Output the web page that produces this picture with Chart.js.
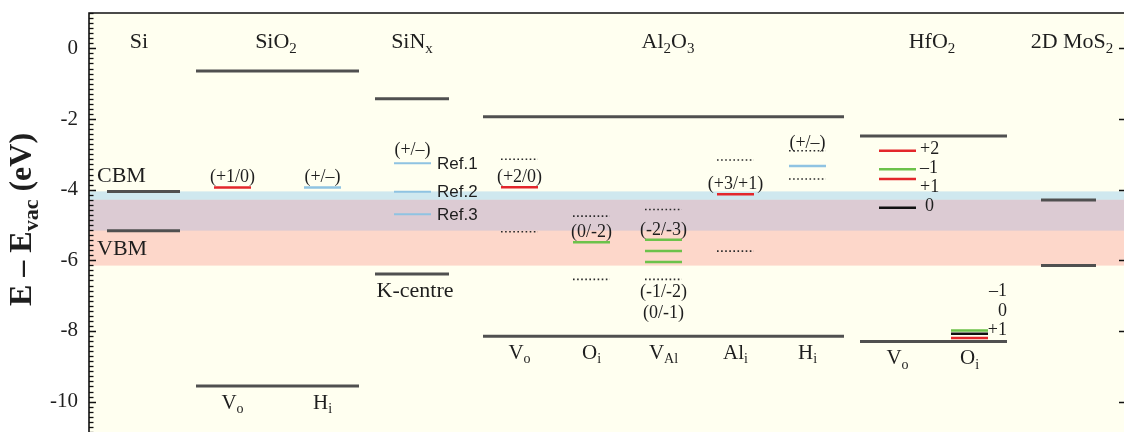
<!DOCTYPE html>
<html>
<head>
<meta charset="utf-8">
<script src="https://cdn.jsdelivr.net/npm/chart.js@4.4.1/dist/chart.umd.min.js"></script>
<style>
  html, body { margin: 0; padding: 0; background: #ffffff; }
  #wrap { width: 1124px; height: 432px; }
</style>
</head>
<body>
<div id="wrap"><canvas id="c" width="1124" height="432"></canvas></div>
<script>
// ---- Band edges (eV vs vacuum) ----
const materials = ['Si', 'SiO_{2}', 'SiN_{x}', 'Al_{2}O_{3}', 'HfO_{2}', '2D MoS_{2}'];
const cbm = [-4.05, -0.64, -1.43, -1.94, -2.48, -4.29];
const vbm = [-5.16, -9.56, -6.39, -8.15, -8.30, -6.15];
const yTicks = [-10, -8, -6, -4, -2, 0];

// ---- SiO2 defects ----
const sio2Defects = ['V_{o}', 'H_{i}'];
const sio2Levels = [-3.94, -3.94];
const sio2Transitions = ['(+1/0)', '(+/\u2013)'];

// ---- SiNx K-centre ----
const sinxDefect = 'K-centre';
const sinxRefs = ['Ref.1', 'Ref.2', 'Ref.3'];
const sinxLevels = [-3.25, -4.06, -4.70];
const sinxTransition = '(+/\u2013)';

// ---- Al2O3 defects ----
const al2o3Defects = ['V_{o}', 'O_{i}', 'V_{Al}', 'Al_{i}', 'H_{i}'];
const al2o3Levels = [[-3.93], [-5.49], [-5.42, -5.74, -6.05], [-4.13], [-3.33]];
const al2o3Transitions = [['(+2/0)'], ['(0/-2)'], ['(-2/-3)', '(-1/-2)', '(0/-1)'], ['(+3/+1)'], ['(+/\u2013)']];
const al2o3Dotted = [[-3.14, -5.19], [-4.75, -6.54], [-4.56, -6.54], [-3.16, -5.74], [-2.90, -3.70]];

// ---- HfO2 defects ----
const hfo2Defects = ['V_{o}', 'O_{i}'];
const hfo2VoCharges = ['+2', '\u20131', '+1', '0'];
const hfo2VoLevels = [-2.90, -3.42, -3.70, -4.51];
const hfo2OiCharges = ['\u20131', '0', '+1'];
const hfo2OiLevels = [-7.99, -8.08, -8.20];

// ---- Horizontal layout (units of the hidden x axis, 0..1035) ----
const LAYOUT = {
  bands: [[18, 91], [107, 270], [286, 360], [394, 755], [771, 918], [952, 1007]],
  titleX: [50, 187, 323, 579, 843, 983],
  sio2Slots: [[125, 162], [215, 252]],
  sinxSlot: [305, 342],
  al2o3Slots: [[412, 449], [484, 521], [556, 593], [628, 665], [700, 737]],
  al2o3LabelOverDots: [false, false, false, false, true],
  hfo2Slots: [[790, 827], [862, 899]]
};

const COL = {
  band: '#505050', red: '#e3262b', green: '#6cc24a', blue: '#8fc3e2', black: '#111111',
  dotted: '#2a2a2a', text: '#1e1e1e',
  cream: '#fffff0', siGap: '#cfe8ef', mosGap: '#fdd7ca', overlap: '#dccbd3'
};

function chargeColor(t) {
  if (t.indexOf('+/') >= 0) return COL.blue;
  const s = t.replace('(', '');
  if (s[0] === '+') return COL.red;
  if (s === '0') return COL.black;
  return COL.green; // negative or (0/-n) states
}

function seg(x0, x1, v, color, width, dash) {
  return {
    data: [{ x: x0, y: v }, { x: x1, y: v }],
    borderColor: color, borderWidth: width, borderDash: dash || [],
    pointRadius: 0, fill: false, borderCapStyle: 'butt'
  };
}

const datasets = [];
// band edges
LAYOUT.bands.forEach((b, i) => {
  datasets.push(seg(b[0], b[1], cbm[i], COL.band, 3));
  datasets.push(seg(b[0], b[1], vbm[i], COL.band, 3));
});
// SiO2
sio2Levels.forEach((v, i) => {
  const s = LAYOUT.sio2Slots[i];
  datasets.push(seg(s[0], s[1], v, chargeColor(sio2Transitions[i]), 2.5));
});
// SiNx
sinxLevels.forEach(v => datasets.push(seg(LAYOUT.sinxSlot[0], LAYOUT.sinxSlot[1], v, COL.blue, 2)));
// Al2O3
al2o3Levels.forEach((lv, i) => {
  const s = LAYOUT.al2o3Slots[i];
  lv.forEach((v, k) => datasets.push(seg(s[0], s[1], v, chargeColor(al2o3Transitions[i][k]), 2.5)));
  al2o3Dotted[i].forEach(v => datasets.push(seg(s[0], s[1], v, COL.dotted, 1.6, [1.6, 2.5])));
});
// HfO2
hfo2VoLevels.forEach((v, i) => {
  const s = LAYOUT.hfo2Slots[0];
  datasets.push(seg(s[0], s[1], v, chargeColor(hfo2VoCharges[i].replace('\u2013', '-')), 2.5));
});
hfo2OiLevels.forEach((v, i) => {
  const s = LAYOUT.hfo2Slots[1];
  datasets.push(seg(s[0], s[1], v, chargeColor(hfo2OiCharges[i].replace('\u2013', '-')), 2.5));
});

// ---- text helpers (subscripts written as _{..}) ----
function richParts(s) {
  const parts = []; const re = /_\{([^}]*)\}/g; let last = 0, m;
  while ((m = re.exec(s))) {
    if (m.index > last) parts.push([s.slice(last, m.index), false]);
    parts.push([m[1], true]); last = re.lastIndex;
  }
  if (last < s.length) parts.push([s.slice(last), false]);
  return parts;
}
function drawRich(ctx, s, x, y, o) {
  o = Object.assign({ size: 21, align: 'center', weight: '', family: 'Liberation Serif', color: COL.text }, o || {});
  const parts = richParts(s);
  const sub = Math.round(o.size * 0.68);
  const fonts = parts.map(p => `${o.weight} ${p[1] ? sub : o.size}px "${o.family}"`);
  let w = 0;
  const ws = parts.map((p, i) => { ctx.font = fonts[i]; const m = ctx.measureText(p[0]).width; w += m; return m; });
  let cx = o.align === 'center' ? x - w / 2 : o.align === 'right' ? x - w : x;
  ctx.fillStyle = o.color; ctx.textBaseline = 'middle'; ctx.textAlign = 'left';
  parts.forEach((p, i) => { ctx.font = fonts[i]; ctx.fillText(p[0], cx, y + (p[1] ? o.size * 0.3 : 0)); cx += ws[i]; });
}

const backdrop = {
  id: 'backdrop',
  beforeDatasetsDraw(chart) {
    const { ctx, chartArea: a, scales: { y } } = chart;
    ctx.save();
    ctx.fillStyle = COL.cream;
    ctx.fillRect(a.left, a.top, a.right - a.left, a.bottom - a.top);
    const band = (top, bot, c) => {
      const y0 = y.getPixelForValue(top), y1 = y.getPixelForValue(bot);
      ctx.fillStyle = c; ctx.fillRect(a.left, y0, a.right - a.left, y1 - y0);
    };
    const si = materials.indexOf('Si'), mos = materials.length - 1;
    band(cbm[si], vbm[si], COL.siGap);
    band(cbm[mos], vbm[mos], COL.mosGap);
    band(Math.min(cbm[si], cbm[mos]), Math.max(vbm[si], vbm[mos]), COL.overlap);
    ctx.restore();
  }
};

const annotations = {
  id: 'annotations',
  afterDatasetsDraw(chart) {
    const { ctx, scales: { x, y }, chartArea: a } = chart;
    const px = u => x.getPixelForValue(u);
    const py = v => y.getPixelForValue(v);
    const mid = s => px((s[0] + s[1]) / 2);
    ctx.save();
    // material headers
    materials.forEach((m, i) => drawRich(ctx, m, px(LAYOUT.titleX[i]), a.top + 29, { size: 22 }));
    // Si band edge names
    drawRich(ctx, 'CBM', px(8), py(cbm[0]) - 15, { size: 22, align: 'left' });
    drawRich(ctx, 'VBM', px(8), py(vbm[0]) + 19, { size: 22, align: 'left' });
    // SiO2
    LAYOUT.sio2Slots.forEach((s, i) => {
      drawRich(ctx, sio2Transitions[i], mid(s), py(sio2Levels[i]) - 10, { size: 18 });
      drawRich(ctx, sio2Defects[i], mid(s), py(vbm[1]) + 17, { size: 21 });
    });
    // SiNx
    drawRich(ctx, sinxTransition, mid(LAYOUT.sinxSlot), py(sinxLevels[0]) - 13, { size: 18 });
    sinxRefs.forEach((r, i) => drawRich(ctx, r, px(LAYOUT.sinxSlot[1] + 6), py(sinxLevels[i]) + 1,
      { size: 17, align: 'left', family: 'Liberation Sans' }));
    drawRich(ctx, sinxDefect, px(326), py(vbm[2]) + 17, { size: 22 });
    // Al2O3
    LAYOUT.al2o3Slots.forEach((s, i) => {
      const lv = al2o3Levels[i], tr = al2o3Transitions[i], dots = al2o3Dotted[i];
      const anchor = LAYOUT.al2o3LabelOverDots[i] ? py(dots[0]) - 8 : py(lv[0]) - 10;
      drawRich(ctx, tr[0], mid(s), anchor, { size: 18 });
      for (let k = 1; k < tr.length; k++) {
        drawRich(ctx, tr[k], mid(s), py(dots[dots.length - 1]) + 13 + (k - 1) * 21, { size: 18 });
      }
      drawRich(ctx, al2o3Defects[i], mid(s), py(vbm[3]) + 17, { size: 21 });
    });
    // HfO2
    let prev = -1e9;
    hfo2VoLevels.forEach((v, i) => {
      const ty = Math.max(py(v) - 2, prev + 19);
      const lx = px(LAYOUT.hfo2Slots[0][1] + (hfo2VoCharges[i] === '0' ? 9 : 4));
      drawRich(ctx, hfo2VoCharges[i], lx, ty, { size: 18, align: 'left' });
      prev = ty;
    });
    const n = hfo2OiCharges.length;
    hfo2OiCharges.forEach((c, i) => {
      drawRich(ctx, c, px(LAYOUT.bands[4][1]), py(hfo2OiLevels[0]) - (n - 1 - i) * 19.5, { size: 18, align: 'right' });
    });
    LAYOUT.hfo2Slots.forEach((s, i) => drawRich(ctx, hfo2Defects[i], mid(s), py(vbm[4]) + 17, { size: 21 }));
    ctx.restore();
  },
  afterDraw(chart) {
    const { ctx, chartArea: a, scales: { y } } = chart;
    ctx.save();
    ctx.strokeStyle = '#111'; ctx.lineWidth = 1.6;
    ctx.beginPath();
    ctx.moveTo(a.left, a.bottom); ctx.lineTo(a.left, a.top); ctx.lineTo(a.right + 2, a.top);
    ctx.stroke();
    // inward tick marks
    ctx.lineWidth = 1.3;
    const step = 2 / 14;
    for (let k = -80; k <= 10; k++) {
      const v = k * step;
      if (v < y.min || v > y.max) continue;
      const yy = Math.round(y.getPixelForValue(v)) + 0.5;
      const major = Math.abs(v / 2 - Math.round(v / 2)) < 1e-6;
      ctx.beginPath();
      ctx.moveTo(a.left, yy); ctx.lineTo(a.left + (major ? 7 : 4.5), yy);
      if (major) { ctx.moveTo(a.right + 2, yy); ctx.lineTo(a.right - 5, yy); }
      ctx.stroke();
    }
    // axis title
    ctx.translate(22.5, 219.5);
    ctx.rotate(-Math.PI / 2);
    drawRich(ctx, 'E \u2013 E_{vac} (eV)', 0, 0, { size: 32, weight: 'bold' });
    ctx.restore();
  }
};

new Chart(document.getElementById('c'), {
  type: 'line',
  data: { datasets },
  options: {
    responsive: false,
    animation: false,
    events: [],
    layout: { padding: { top: 13, left: 0, right: 0, bottom: 0 }, autoPadding: false },
    plugins: { legend: { display: false }, tooltip: { enabled: false } },
    scales: {
      x: { type: 'linear', min: 0, max: 1035, display: false },
      y: {
        type: 'linear', min: -10.86, max: 1.0,
        afterBuildTicks: s => { s.ticks = yTicks.map(v => ({ value: v })); },
        afterFit: s => {
          s.width = 89;
          s.paddingTop = 0; s.paddingBottom = 0; s.paddingLeft = 0; s.paddingRight = 0;
        },
        grid: { display: false, drawTicks: false },
        border: { display: false },
        ticks: {
          padding: 11, color: COL.text,
          font: { family: 'Liberation Serif', size: 21 },
          callback: v => String(v)
        }
      }
    }
  },
  plugins: [backdrop, annotations]
});
</script>
</body>
</html>
